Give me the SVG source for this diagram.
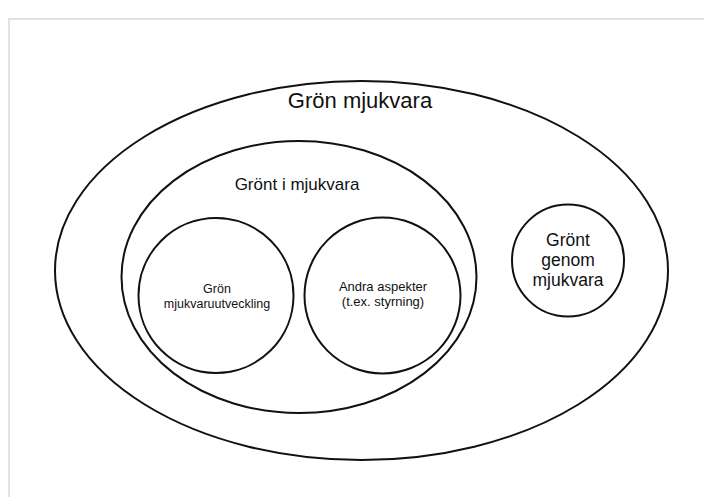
<svg xmlns="http://www.w3.org/2000/svg" width="704" height="497" viewBox="0 0 704 497">
<style>
.sh{fill:none;stroke:#111;stroke-width:2}
text{font-family:"Liberation Sans",Arial,sans-serif;fill:#111;text-anchor:middle}
.t1{font-size:22px}
.t2{font-size:17px}
.t3{font-size:13px}
.t3s{font-size:12.5px}
.t4{font-size:17.5px}
</style>
<rect x="0" y="0" width="704" height="497" fill="#fff"/>
<rect x="9" y="19" width="720" height="500" fill="none" stroke="#e2e2e2" stroke-width="2"/>
<g id="gron-mjukvara">
<ellipse class="sh" cx="361.5" cy="270.5" rx="306.5" ry="189.5"/>
<text class="t1" x="360" y="108">Grön mjukvara</text>
</g>
<g id="gront-i-mjukvara">
<ellipse class="sh" cx="299" cy="277" rx="177.5" ry="136"/>
<text class="t2" x="297" y="190">Grönt i mjukvara</text>
</g>
<g id="gron-mjukvaruutveckling">
<circle class="sh" cx="216" cy="295.5" r="77.5"/>
<text class="t3s" x="217" y="293">Grön</text>
<text class="t3s" x="217" y="308">mjukvaruutveckling</text>
</g>
<g id="andra-aspekter">
<circle class="sh" cx="382.5" cy="295.5" r="78"/>
<text class="t3" x="383" y="291">Andra aspekter</text>
<text class="t3" x="383" y="306">(t.ex. styrning)</text>
</g>
<g id="gront-genom-mjukvara">
<circle class="sh" cx="568" cy="260.5" r="56"/>
<text class="t4" x="568" y="246">Grönt</text>
<text class="t4" x="568" y="266">genom</text>
<text class="t4" x="568" y="286">mjukvara</text>
</g>
<g id="connectors"></g>
</svg>
